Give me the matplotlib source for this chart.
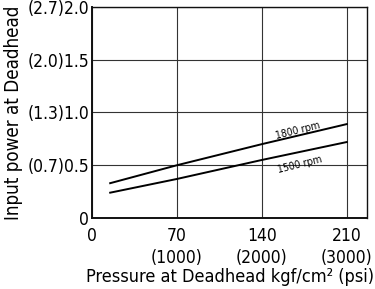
import matplotlib.pyplot as plt

# pressure kgf/cm2 and input power for the two speeds
pressure = [15, 70, 140, 210]
power_1800 = [0.33, 0.50, 0.70, 0.89]
power_1500 = [0.24, 0.37, 0.55, 0.72]

x_ticks = [0, 70, 140, 210]
x_labels = ["0", "70\n(1000)", "140\n(2000)", "210\n(3000)"]
y_ticks = [0, 0.5, 1.0, 1.5, 2.0]
y_labels = ["0", "(0.7)0.5", "(1.3)1.0", "(2.0)1.5", "(2.7)2.0"]

plt.rcParams['font.family'] = ['DejaVu Sans']
plt.rcParams['font.stretch'] = 'condensed'

fig = plt.figure(figsize=(3.75, 2.89), dpi=100)
ax = fig.add_axes([0.2453, 0.2457, 0.7334, 0.7301])

ax.plot(pressure, power_1800, color='black', lw=1.4)
ax.plot(pressure, power_1500, color='black', lw=1.4)

ax.text(170, 0.825, "1800 rpm", rotation=14, fontsize=7.5, ha='center', va='center')
ax.text(171.5, 0.51, "1500 rpm", rotation=14, fontsize=7.5, ha='center', va='center')

ax.set_xlim(0, 226.7)
ax.set_ylim(0, 2.0)
ax.set_xticks(x_ticks)
ax.set_xticklabels(x_labels, fontsize=12.5, linespacing=1.3)
ax.set_yticks(y_ticks)
ax.set_yticklabels(y_labels, fontsize=12.5)
ax.tick_params(axis='y', length=0, pad=2)
ax.tick_params(axis='x', length=0, pad=6.5)
ax.grid(True, color='#333333', lw=0.8)

for s in ax.spines.values():
    s.set_color('#111111')
    s.set_linewidth(1.0)
ax.spines['left'].set_linewidth(1.4)
ax.spines['bottom'].set_linewidth(1.4)

ax.set_xlabel("Pressure at Deadhead kgf/cm² (psi)", fontsize=13, labelpad=0.5)
ax.set_ylabel("Input power at Deadhead", fontsize=13.5, labelpad=3)

fig.savefig("out.png", dpi=100)
